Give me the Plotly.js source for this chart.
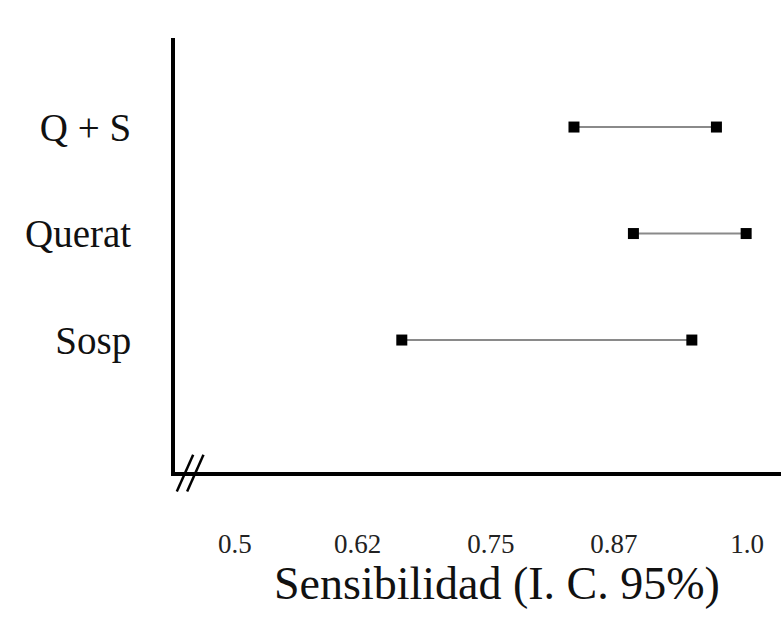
<!DOCTYPE html>
<html>
<head>
<meta charset="utf-8">
<script src="https://cdn.plot.ly/plotly-3.0.1.min.js"></script>
<style>html,body{margin:0;padding:0;background:#fff;}#chart{width:781px;height:617px;}</style>
</head>
<body>
<div id="chart"></div>
<script>
// Data (bottom to top)
const categories = ["Sosp", "Querat", "Q + S"];
const lowerCI = [0.663, 0.889, 0.831];
const upperCI = [0.946, 0.999, 0.970];
const xTickVals = [0.5, 0.62, 0.75, 0.87, 1.0];
const xTickText = ["0.5", "0.62", "0.75", "0.87", "1.0"];
const xTitle = "Sensibilidad (I. C. 95%)";

const traces = categories.map((c, i) => ({
  type: "scatter",
  mode: "lines+markers",
  x: [lowerCI[i], upperCI[i]],
  y: [c, c],
  line: {color: "#8a8a8a", width: 2},
  marker: {symbol: "square", size: 11, color: "#000"},
  showlegend: false,
  hoverinfo: "x+y"
}));

const layout = {
  width: 781, height: 617,
  margin: {l: 175, r: 0, t: 38, b: 145},
  paper_bgcolor: "#fff", plot_bgcolor: "#fff",
  font: {family: "Liberation Serif, Times New Roman, serif", color: "#000"},
  xaxis: {
    range: [0.4417, 1.033],
    tickvals: xTickVals, ticktext: xTickText,
    showgrid: false, zeroline: false,
    showline: true, linecolor: "#000", linewidth: 4,
    ticks: "", ticklabelstandoff: 45,
    tickfont: {size: 27, color: "#222"}
  },
  yaxis: {
    type: "category",
    categoryorder: "array", categoryarray: categories,
    range: [-1.239, 2.836],
    showgrid: false, zeroline: false,
    showline: true, linecolor: "#000", linewidth: 4,
    ticks: "", ticklabelstandoff: 32,
    tickfont: {size: 39, color: "#111"}
  },
  annotations: [
    {text: xTitle, xref: "paper", yref: "paper", x: 0.531, y: -0.256,
     xanchor: "center", yanchor: "middle", showarrow: false,
     font: {size: 46, color: "#111"}}
  ],
  shapes: [
    {type: "line", xref: "paper", yref: "paper", x0: 0.003, y0: -0.045, x1: 0.03, y1: 0.04, line: {color: "#000", width: 2.5}},
    {type: "line", xref: "paper", yref: "paper", x0: 0.02, y0: -0.045, x1: 0.047, y1: 0.04, line: {color: "#000", width: 2.5}}
  ]
};

Plotly.newPlot("chart", traces, layout, {displayModeBar: false, staticPlot: true});
</script>
</body>
</html>
